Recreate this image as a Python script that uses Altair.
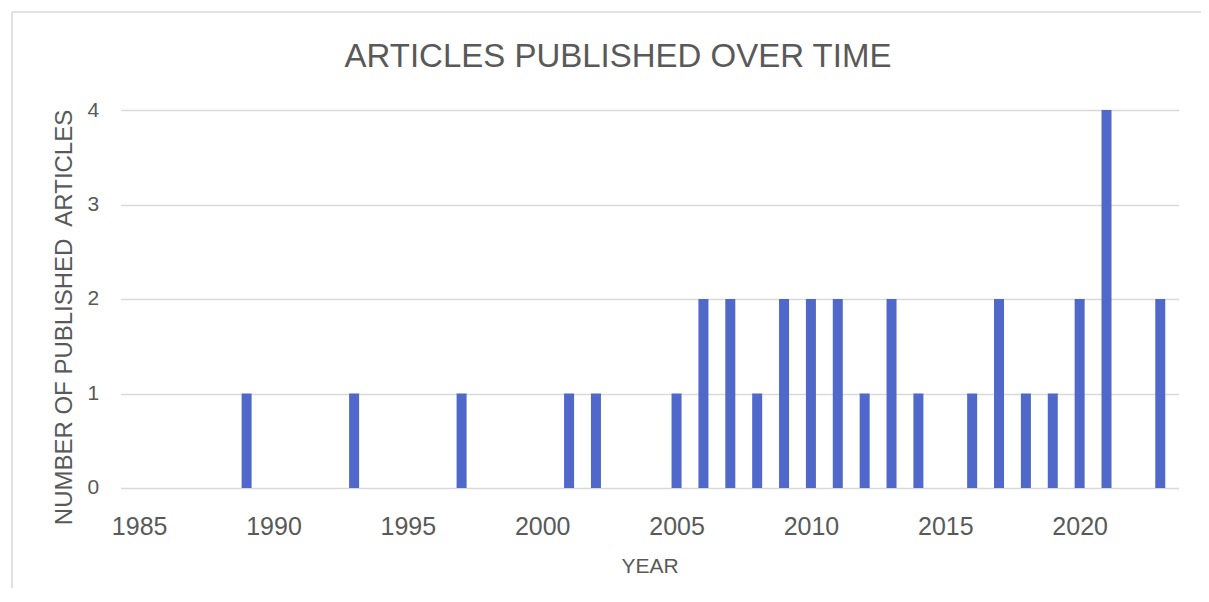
import altair as alt
import pandas as pd

# ---- data ----
years = [1989, 1993, 1997, 2001, 2002, 2005, 2006, 2007, 2008, 2009, 2010,
         2011, 2012, 2013, 2014, 2016, 2017, 2018, 2019, 2020, 2021, 2023]
counts = [1, 1, 1, 1, 1, 1, 2, 2, 1, 2, 2,
          2, 1, 2, 1, 1, 2, 1, 1, 2, 4, 2]
x_ticks = [1985, 1990, 1995, 2000, 2005, 2010, 2015, 2020]
y_ticks = [0, 1, 2, 3, 4]
title_text = ["ARTICLES PUBLISHED OVER TIME"]

df = pd.DataFrame({"year": years, "count": counts})

FONT = "Liberation Sans"
TXT = "#595959"
GRID = "#d9d9d9"
BAR = "#4f68c9"

PLOT_W, PLOT_H = 1058, 378

bars = alt.Chart(df).mark_bar(width=10, color=BAR).encode(
    x=alt.X(
        "year:Q",
        scale=alt.Scale(domain=[1984.5, 2023.5], nice=False, zero=False),
        axis=alt.Axis(
            values=x_ticks, format="d", grid=False, domain=False, ticks=False,
            tickSize=0, labelFontSize=25, labelColor=TXT, labelFont=FONT,
            labelPadding=27, labelFlush=False, labelOverlap=False,
            title="YEAR", titleFontSize=21, titleFont=FONT, titleColor=TXT,
            titleFontWeight="normal", titleBaseline="alphabetic",
            titleX=PLOT_W / 2, titleY=85, titleAlign="center",
        ),
    ),
    y=alt.Y(
        "count:Q",
        scale=alt.Scale(domain=[0, 4], nice=False),
        axis=alt.Axis(
            values=y_ticks, format="d", grid=True, gridColor=GRID, gridWidth=1.3,
            domain=False, ticks=False, tickSize=0, labelFontSize=21,
            labelColor=TXT, labelFont=FONT, labelPadding=22,
            title="NUMBER OF PUBLISHED\u00a0 ARTICLES", titleFontSize=24,
            titleFont=FONT, titleColor=TXT, titleFontWeight="normal",
            titleAngle=270, titleBaseline="alphabetic", titleAlign="center",
            titleX=-49, titleY=207,
        ),
    ),
)

title = alt.Chart(pd.DataFrame({"t": title_text})).mark_text(
    font=FONT, fontSize=33, color=TXT, align="center", baseline="alphabetic"
).encode(text="t:N", x=alt.value(497.3), y=alt.value(-43))

frame = pd.DataFrame({"k": [0]})
left_border = alt.Chart(frame).mark_rule(color=GRID, strokeWidth=1.5).encode(
    x=alt.value(-108.7), y=alt.value(-98), y2=alt.value(600)
)
top_border = alt.Chart(frame).mark_rule(color=GRID, strokeWidth=1.5).encode(
    x=alt.value(-108.7), x2=alt.value(1100), y=alt.value(-98)
)

chart = alt.layer(left_border, top_border, bars, title).properties(
    width=PLOT_W,
    height=PLOT_H,
    autosize=alt.AutoSizeParams(type="none"),
    padding={"left": 112.7, "top": 102, "right": 22, "bottom": 100},
    background="white",
).configure_view(stroke=None)

chart.save("out.html", embed_options={"renderer": "svg", "actions": False})
